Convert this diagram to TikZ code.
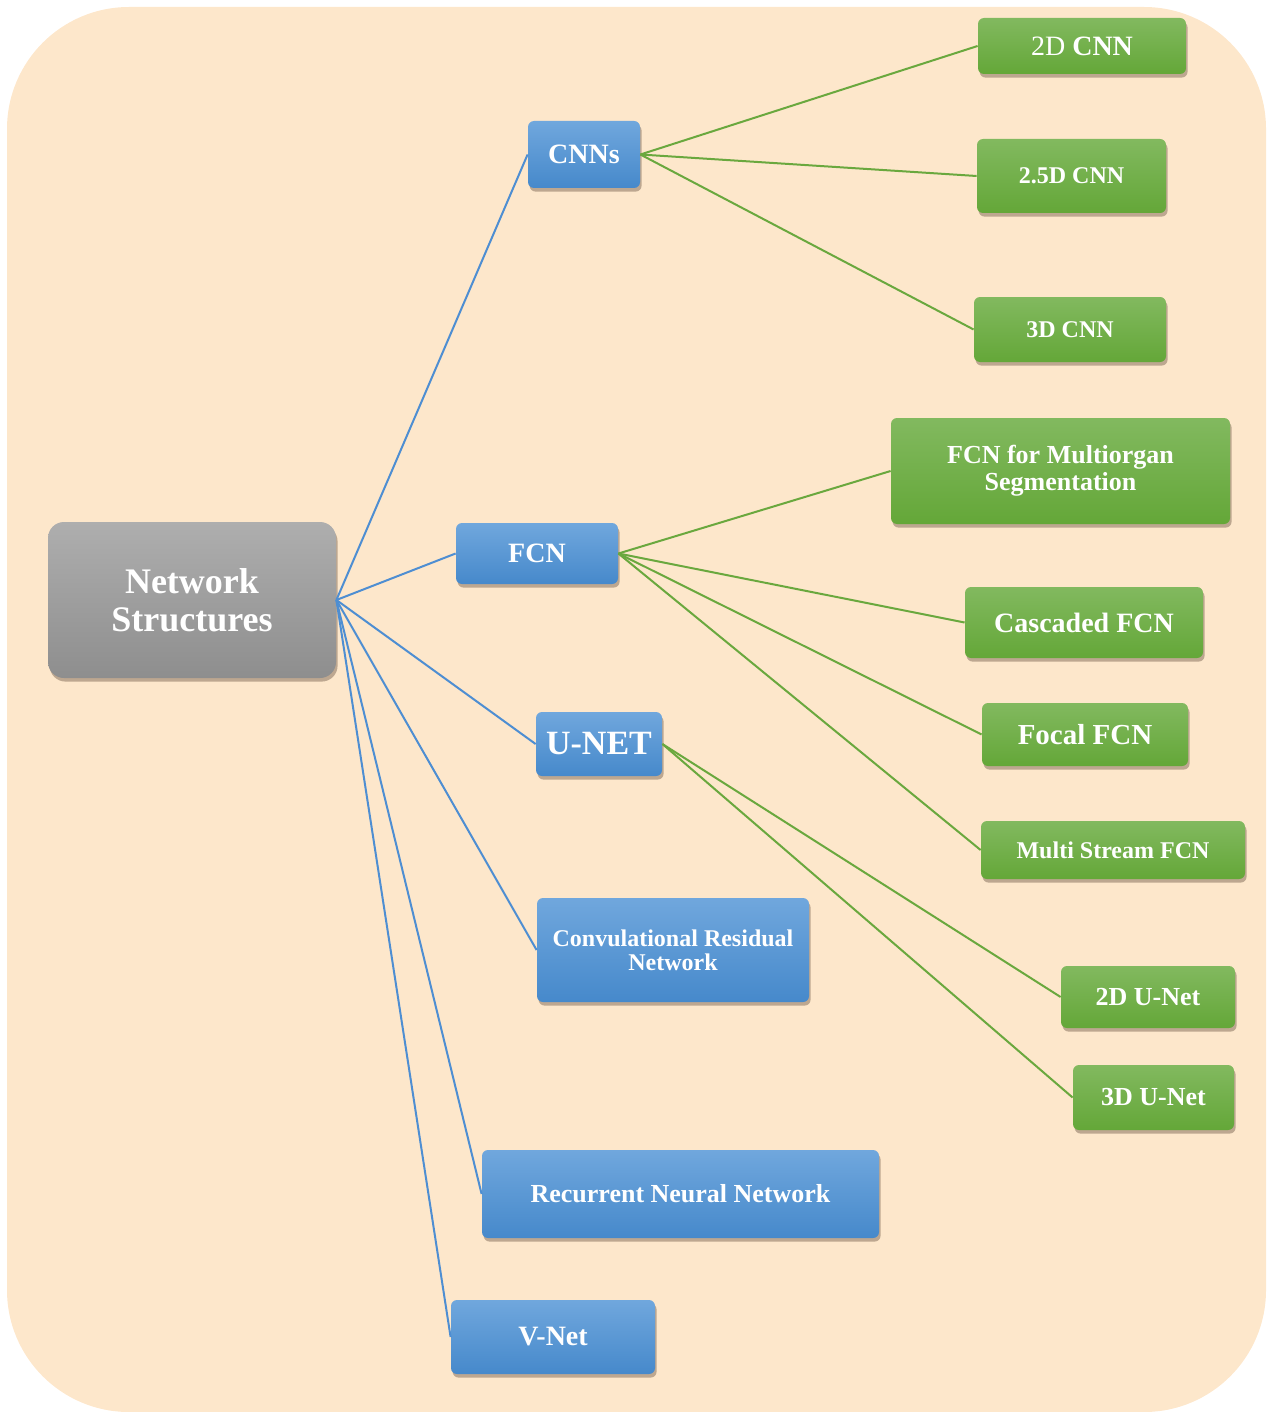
\documentclass[tikz,border=0pt]{standalone}
\usepackage{fontspec}
\setmainfont{Liberation Serif}
\usetikzlibrary{shadows}
\definecolor{bgc}{RGB}{253,231,203}
\definecolor{bluetop}{RGB}{112,167,221}
\definecolor{bluebot}{RGB}{70,137,203}
\definecolor{greentop}{RGB}{130,185,95}
\definecolor{greenbot}{RGB}{100,167,56}
\definecolor{graytop}{RGB}{174,174,174}
\definecolor{graybot}{RGB}{142,142,142}
\definecolor{bluel}{RGB}{78,142,210}
\definecolor{greenl}{RGB}{106,168,62}
\definecolor{shadowc}{RGB}{70,50,35}
\newcommand{\fsz}[2]{\fontsize{#1pt}{#2pt}\selectfont}
\begin{document}
\begin{tikzpicture}[x=0.5pt,y=-0.5pt,
  box/.style={rounded corners=3pt, text=white, inner sep=0pt, align=center,
    drop shadow={shadow xshift=0.8pt, shadow yshift=-1.8pt, opacity=0.35, fill=shadowc}},
  bluebox/.style={box, top color=bluetop, bottom color=bluebot},
  greenbox/.style={box, top color=greentop, bottom color=greenbot},
  graybox/.style={box, rounded corners=8pt, top color=graytop, bottom color=graybot},
  bline/.style={draw=bluel, line width=1pt},
  gline/.style={draw=greenl, line width=1pt}]
\useasboundingbox (0,0) rectangle (1275,1412);
\fill[bgc, rounded corners=61pt] (7,7) rectangle (1266,1412);

% root
\node[graybox, minimum width=144pt, minimum height=78pt, font=\bfseries\fsz{18}{19}] (root) at (192,600) {Network\\Structures};

% level 1
\node[bluebox, minimum width=56pt, minimum height=33.5pt, font=\bfseries\fsz{14}{16}] (cnns) at (584,154.5) {CNNs};
\node[bluebox, minimum width=81pt, minimum height=30.5pt, font=\bfseries\fsz{14}{16}] (fcn) at (537,553.5) {FCN};
\node[bluebox, minimum width=63pt, minimum height=32pt, font=\bfseries\fsz{17}{19}] (unet) at (599,744) {U-NET};
\node[bluebox, minimum width=136pt, minimum height=52pt, font=\bfseries\fsz{12}{12}] (crn) at (673,950) {Convulational Residual\\Network};
\node[bluebox, minimum width=198.5pt, minimum height=44pt, font=\bfseries\fsz{13}{15}] (rnn) at (680.5,1194) {Recurrent Neural Network};
\node[bluebox, minimum width=102pt, minimum height=37pt, font=\bfseries\fsz{14}{16}] (vnet) at (553,1337) {V-Net};

% level 2
\node[greenbox, minimum width=104pt, minimum height=28pt, font=\fsz{14}{16}] (c2d) at (1082,46) {2D \textbf{CNN}};
\node[greenbox, minimum width=94.5pt, minimum height=37pt, font=\bfseries\fsz{12}{14}] (c25d) at (1071.5,176) {2.5D CNN};
\node[greenbox, minimum width=96pt, minimum height=32.5pt, font=\bfseries\fsz{12}{14}] (c3d) at (1070,329.5) {3D CNN};
\node[greenbox, minimum width=169.5pt, minimum height=53pt, font=\bfseries\fsz{13}{13.5}] (fmo) at (1060.5,471) {FCN for Multiorgan\\Segmentation};
\node[greenbox, minimum width=119pt, minimum height=35.5pt, font=\bfseries\fsz{14}{16}] (cas) at (1084,622.5) {Cascaded FCN};
\node[greenbox, minimum width=103pt, minimum height=31.5pt, font=\bfseries\fsz{14.5}{16}] (foc) at (1085,734.5) {Focal FCN};
\node[greenbox, minimum width=132pt, minimum height=29pt, font=\bfseries\fsz{12}{14}] (msf) at (1113,850) {Multi Stream FCN};
\node[greenbox, minimum width=87pt, minimum height=31pt, font=\bfseries\fsz{13}{15}] (u2d) at (1148,997) {2D U-Net};
\node[greenbox, minimum width=80.5pt, minimum height=32.5pt, font=\bfseries\fsz{13}{15}] (u3d) at (1153.5,1097.5) {3D U-Net};

% connectors
\foreach \c in {cnns,fcn,unet,crn,rnn,vnet}
  \draw[bline] (root.east) -- (\c.west);
\foreach \c in {c2d,c25d,c3d}
  \draw[gline] (cnns.east) -- (\c.west);
\foreach \c in {fmo,cas,foc,msf}
  \draw[gline] (fcn.east) -- (\c.west);
\foreach \c in {u2d,u3d}
  \draw[gline] (unet.east) -- (\c.west);
\end{tikzpicture}
\end{document}
